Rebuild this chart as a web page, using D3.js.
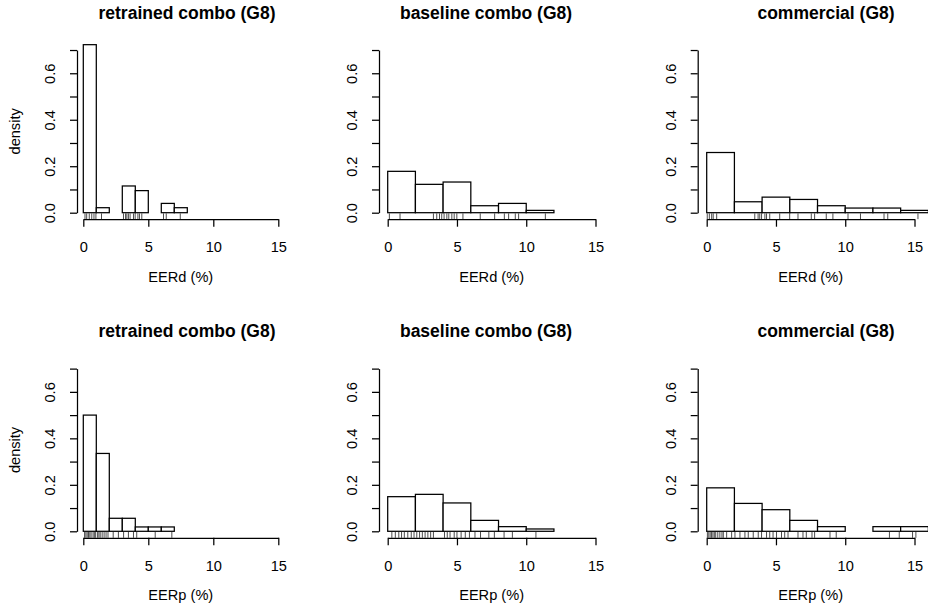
<!DOCTYPE html>
<html>
<head>
<meta charset="utf-8">
<script src="https://cdn.jsdelivr.net/npm/d3@7"></script>
<style>
  html, body { margin: 0; padding: 0; background: #fff; }
  svg { display: block; }
  text { font-family: "Liberation Sans", Arial, Helvetica, sans-serif; fill: #000; }
</style>
</head>
<body>
<svg id="chart" width="928" height="613"></svg>
<script>
// ---- data -------------------------------------------------------------
const titles = ["retrained combo (G8)", "baseline combo (G8)", "commercial (G8)"];
const xLabels = ["EERd (%)", "EERp (%)"];
const yLabel = "density";
const xTickValues = [0, 5, 10, 15];
const yTickValues = [0, 0.1, 0.2, 0.3, 0.4, 0.5, 0.6, 0.7];
const yTickLabelled = [0, 0.2, 0.4, 0.6];

// histogram breaks and densities, EERd row
const breaksRetrainedD = [0, 1, 2, 3, 4, 5, 6, 7, 8];
const densRetrainedD   = [0.723, 0.0215, 0, 0.115, 0.095, 0, 0.04, 0.0215];
const breaksBaselineD  = [0, 2, 4, 6, 8, 10, 12];
const densBaselineD    = [0.178, 0.122, 0.132, 0.030, 0.040, 0.010];
const breaksCommercialD = [0, 2, 4, 6, 8, 10, 12, 14, 16];
const densCommercialD   = [0.259, 0.047, 0.067, 0.057, 0.030, 0.020, 0.020, 0.010];

// histogram breaks and densities, EERp row
const breaksRetrainedP = [0, 1, 2, 3, 4, 5, 6, 7];
const densRetrainedP   = [0.5, 0.335, 0.056, 0.056, 0.0187, 0.0187, 0.0187];
const breaksBaselineP  = [0, 2, 4, 6, 8, 10, 12];
const densBaselineP    = [0.149, 0.159, 0.122, 0.047, 0.020, 0.010];
const breaksCommercialP = [0, 2, 4, 6, 8, 10, 12, 14, 16];
const densCommercialP   = [0.187, 0.120, 0.093, 0.047, 0.020, 0, 0.020, 0.020];

// rug positions (individual EER values)
const rugRetrainedD = [0.13, 0.26, 0.46, 0.65, 0.82, 0.97, 1.4, 3.09, 3.25, 3.35, 3.47, 3.6, 3.86, 3.99,
  4.2, 4.32, 4.5, 6.17, 6.38, 7.46];
const rugBaselineD = [0.12, 0.89, 3.3, 3.54, 3.74, 3.9, 4.07, 4.27, 4.41, 4.63, 4.8, 4.99, 5.43, 6.68,
  7.72, 8.42, 8.73, 9.21, 9.45, 11.38];
const rugCommercialD = [0.04, 0.19, 0.36, 0.47, 0.72, 3.47, 3.71, 3.83, 3.96, 4.2, 4.32, 4.55, 5.27,
  5.99, 6.59, 7.55, 7.79, 8.63, 9.11, 10.2, 11.1, 12.8, 13.07, 15.25];
const rugRetrainedP = [0.1, 0.2, 0.3, 0.4, 0.5, 0.6, 0.75, 0.85, 0.95, 1.1, 1.2, 1.3, 1.45, 1.6, 1.75,
  1.9, 2.3, 2.7, 3.1, 3.47, 3.86, 4.11, 5.53, 6.81];
const rugBaselineP = [0.3, 0.55, 0.8, 1.0, 1.2, 1.45, 1.7, 1.9, 2.1, 2.3, 2.5, 2.7, 2.9, 3.1, 3.3,
  4.1, 4.3, 4.5, 4.8, 5.0, 5.3, 5.6, 5.9, 6.3, 6.7, 7.3, 7.7, 8.4, 9.0, 10.7];
const rugCommercialP = [0.05, 0.15, 0.25, 0.35, 0.45, 0.55, 0.65, 0.8, 0.95, 1.1, 1.2, 1.44, 1.8,
  2.04, 2.4, 2.76, 3.0, 3.36, 3.72, 3.96, 4.32, 4.55, 4.79, 5.04, 5.4, 5.63, 5.87, 6.59, 6.95,
  7.19, 7.6, 7.79, 8.9, 9.35, 13.19, 13.9, 14.86, 15.1];

// ---- layout -----------------------------------------------------------
const rows = [
  { label: xLabels[0], y0: 212.7, panels: [
      { breaks: breaksRetrainedD, dens: densRetrainedD, rug: rugRetrainedD },
      { breaks: breaksBaselineD, dens: densBaselineD, rug: rugBaselineD },
      { breaks: breaksCommercialD, dens: densCommercialD, rug: rugCommercialD } ] },
  { label: xLabels[1], y0: 531.3, panels: [
      { breaks: breaksRetrainedP, dens: densRetrainedP, rug: rugRetrainedP },
      { breaks: breaksBaselineP, dens: densBaselineP, rug: rugBaselineP },
      { breaks: breaksCommercialP, dens: densCommercialP, rug: rugCommercialP } ] }
];
const cols = [
  { x0: 83.3,  x15: 278.3, axisX: 77,    titleX: 187 },
  { x0: 387.7, x15: 595.5, axisX: 379,   titleX: 486 },
  { x0: 706.7, x15: 914.5, axisX: 697.7, titleX: 826 }
];
const yPxPerUnit = 232.4;
const axisGap = 6.5;     // x axis sits slightly below density 0
const rugLen = 5.8;
const lw = 1.25;
const fsAxis = 14.6, fsTitle = 17.5;

const svg = d3.select("#chart");
svg.append("rect").attr("width", 928).attr("height", 613).attr("fill", "#fff");

rows.forEach((row, ri) => {
  const y = d3.scaleLinear().domain([0, 0.7]).range([row.y0, row.y0 - 0.7 * yPxPerUnit]);
  const axisY = row.y0 + axisGap;

  row.panels.forEach((p, ci) => {
    const c = cols[ci];
    const x = d3.scaleLinear().domain([0, 15]).range([c.x0, c.x15]);
    const g = svg.append("g");

    // title
    g.append("text")
      .attr("x", c.titleX).attr("y", row.y0 - 194.2)
      .attr("text-anchor", "middle")
      .style("font-size", fsTitle + "px").style("font-weight", "bold")
      .text(titles[ci]);

    // histogram bars
    const bins = p.dens.map((d, i) => ({ x0: p.breaks[i], x1: p.breaks[i + 1], d }));
    g.selectAll("rect.bar").data(bins).join("rect")
      .attr("class", "bar")
      .attr("x", b => x(b.x0)).attr("width", b => x(b.x1) - x(b.x0))
      .attr("y", b => y(b.d)).attr("height", b => y(0) - y(b.d))
      .attr("fill", "#fff").attr("stroke", "#000").attr("stroke-width", lw);

    // rug
    g.selectAll("line.rug").data(p.rug).join("line")
      .attr("class", "rug")
      .attr("x1", v => x(v)).attr("x2", v => x(v))
      .attr("y1", axisY).attr("y2", axisY - rugLen)
      .attr("stroke", "#000").attr("stroke-width", 0.7);

    // x axis
    const xa = g.append("g").attr("transform", `translate(0,${axisY})`)
      .call(d3.axisBottom(x).tickValues(xTickValues).tickSize(7.5).tickSizeOuter(0).tickFormat(d3.format("d")));
    xa.select(".domain").attr("stroke-width", lw);
    xa.selectAll(".tick line").attr("stroke-width", lw);
    xa.selectAll(".tick text").attr("y", 27.7).attr("dy", "0.35em")
      .style("font-size", fsAxis + "px").style("font-family", null);

    g.append("text")
      .attr("x", (x(0) + x(15)) / 2).attr("y", axisY + 57.5).attr("dy", "0.35em")
      .attr("text-anchor", "middle").style("font-size", fsAxis + "px")
      .text(row.label);

    // y axis
    const ya = g.append("g").attr("transform", `translate(${c.axisX},0)`)
      .call(d3.axisLeft(y).tickValues(yTickValues).tickSize(7).tickSizeOuter(0)
        .tickFormat(v => yTickLabelled.some(t => Math.abs(t - v) < 1e-9) ? d3.format(".1f")(v) : ""));
    ya.select(".domain").attr("stroke-width", lw);
    ya.selectAll(".tick line").attr("stroke-width", lw);
    ya.selectAll(".tick text")
      .attr("x", null).attr("y", null).attr("dy", "0.35em")
      .attr("transform", "translate(-27,0) rotate(-90)")
      .attr("text-anchor", "middle")
      .style("font-size", fsAxis + "px").style("font-family", null);

    if (ci === 0) {
      g.append("text")
        .attr("transform", `translate(15,${y(0.35)}) rotate(-90)`)
        .attr("dy", "0.35em").attr("text-anchor", "middle")
        .style("font-size", fsAxis + "px")
        .text(yLabel);
    }
  });
});
</script>
</body>
</html>
